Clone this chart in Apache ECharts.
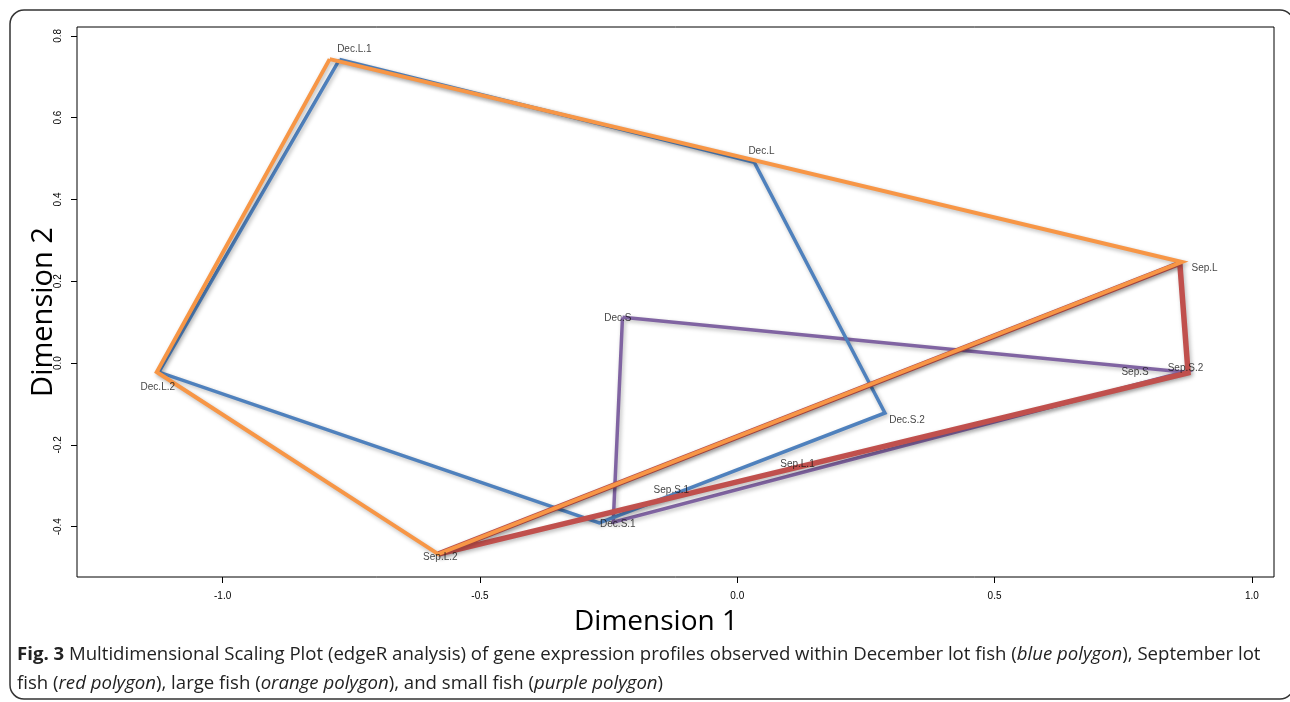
<!DOCTYPE html>
<html>
<head>
<meta charset="utf-8">
<title>MDS plot</title>
<script src="https://cdn.jsdelivr.net/npm/echarts@6.0.0/dist/echarts.min.js"></script>
<style>
  html, body { margin: 0; padding: 0; background: #fff; }
  #mdsChart { width: 1290px; height: 702px; }
</style>
</head>
<body>
<div id="mdsChart"></div>
<script>
// sample labels (text positions in MDS space)
const sampleNames = ['Dec.L.1', 'Dec.L', 'Sep.L', 'Sep.S.2', 'Sep.S', 'Dec.S', 'Dec.S.2', 'Dec.L.2', 'Sep.L.2', 'Dec.S.1', 'Sep.S.1', 'Sep.L.1']
const sampleX = [-0.744, 0.047, 0.908, 0.871, 0.773, -0.232, 0.330, -1.126, -0.577, -0.232, -0.128, 0.117]
const sampleY = [0.768, 0.518, 0.232, -0.012, -0.022, 0.110, -0.139, -0.059, -0.474, -0.394, -0.311, -0.247]

// polygon corners (closed back to the first corner)
const decemberX = [-0.773, 0.033, 0.287, -0.268, -1.124, -0.773]
const decemberY = [0.742, 0.491, -0.122, -0.391, -0.022, 0.742]
const septemberX = [0.860, 0.876, -0.581, 0.860]
const septemberY = [0.244, -0.024, -0.467, 0.244]
const largeX = [-0.792, 0.864, -0.581, -1.128, -0.792]
const largeY = [0.743, 0.247, -0.467, -0.022, 0.743]
const smallX = [-0.223, 0.868, -0.241, -0.223]
const smallY = [0.112, -0.022, -0.389, 0.112]

const xTicks = [-1.0, -0.5, 0.0, 0.5, 1.0]
const yTicks = [-0.4, -0.2, 0.0, 0.2, 0.4, 0.6, 0.8]

const caption1 = '{b|Fig. 3} Multidimensional Scaling Plot (edgeR analysis) of gene expression profiles observed within December lot fish ({i|blue polygon}), September lot'
const caption2 = 'fish ({i|red polygon}), large fish ({i|orange polygon}), and small fish ({i|purple polygon})'

function zip(xs, ys) {
  return xs.map((x, i) => [x, ys[i]])
}

function polygon(name, xs, ys, color, width) {
  return {
    name: name,
    type: 'line',
    data: zip(xs, ys),
    symbol: 'none',
    silent: true,
    animation: false,
    lineStyle: {
      color: color,
      width: width,
      join: 'miter',
      shadowColor: 'rgba(0,0,0,0.28)',
      shadowBlur: 4,
      shadowOffsetX: 1.5,
      shadowOffsetY: 2
    }
  }
}

const captionFont = '"Open Sans", "Noto Sans", sans-serif'
const captionSize = 18.6
const captionRich = {
  b: { fontWeight: 'bold', fontSize: captionSize, fontFamily: captionFont, fill: '#222' },
  i: { fontStyle: 'italic', fontSize: captionSize, fontFamily: captionFont, fill: '#222' }
}

const myChart = echarts.init(document.getElementById('mdsChart'))
myChart.setOption({
  animation: false,
  backgroundColor: '#fff',
  grid: {
    left: 77,
    top: 27,
    right: 16,
    bottom: 125,
    show: true,
    borderColor: '#000',
    borderWidth: 1
  },
  xAxis: {
    type: 'value',
    min: -1.283,
    max: 1.043,
    axisLine: { show: false, onZero: false },
    splitLine: { show: false },
    axisTick: { show: true, length: 6, lineStyle: { color: '#000' }, customValues: xTicks },
    axisLabel: {
      customValues: xTicks,
      margin: 14,
      fontSize: 10,
      color: '#000',
      fontFamily: '"Liberation Sans", Arial, sans-serif',
      formatter: v => v.toFixed(1)
    }
  },
  yAxis: {
    type: 'value',
    min: -0.523,
    max: 0.8215,
    axisLine: { show: false, onZero: false },
    splitLine: { show: false },
    axisTick: { show: true, length: 6, lineStyle: { color: '#000' }, customValues: yTicks },
    axisLabel: {
      customValues: yTicks,
      rotate: 90,
      margin: 14,
      fontSize: 10,
      color: '#000',
      fontFamily: '"Liberation Sans", Arial, sans-serif',
      formatter: v => v.toFixed(1)
    }
  },
  series: [
    polygon('small fish', smallX, smallY, '#8064A2', 3.5),
    polygon('December lot', decemberX, decemberY, '#4F81BD', 3.5),
    polygon('September lot', septemberX, septemberY, '#C0504D', 5.5),
    polygon('large fish', largeX, largeY, '#F79646', 4),
    {
      name: 'samples',
      type: 'scatter',
      symbolSize: 0,
      silent: true,
      z: 5,
      data: sampleNames.map((n, i) => ({ name: n, value: [sampleX[i], sampleY[i]] })),
      label: {
        show: true,
        position: 'inside',
        formatter: p => p.name,
        fontSize: 10,
        color: '#111',
        fontFamily: '"Liberation Sans", Arial, sans-serif'
      }
    }
  ],
  graphic: [
    {
      type: 'rect',
      silent: true,
      shape: { x: 10, y: 10, width: 1284, height: 689, r: 14 },
      style: { fill: 'none', stroke: '#333', lineWidth: 1.5 }
    },
    {
      type: 'text',
      x: 656,
      y: 622,
      style: {
        text: 'Dimension 1',
        fontSize: 28,
        fontFamily: captionFont,
        fill: '#000',
        align: 'center',
        verticalAlign: 'middle'
      }
    },
    {
      type: 'text',
      x: 44,
      y: 312,
      rotation: Math.PI / 2,
      style: {
        text: 'Dimension 2',
        fontSize: 29,
        fontFamily: captionFont,
        fill: '#000',
        align: 'center',
        verticalAlign: 'middle'
      }
    },
    {
      type: 'text',
      left: 17,
      top: 645,
      style: {
        text: caption1,
        rich: captionRich,
        fontSize: captionSize,
        fontFamily: captionFont,
        fill: '#222'
      }
    },
    {
      type: 'text',
      left: 17,
      top: 674,
      style: {
        text: caption2,
        rich: captionRich,
        fontSize: captionSize,
        fontFamily: captionFont,
        fill: '#222'
      }
    }
  ]
})
</script>
</body>
</html>
